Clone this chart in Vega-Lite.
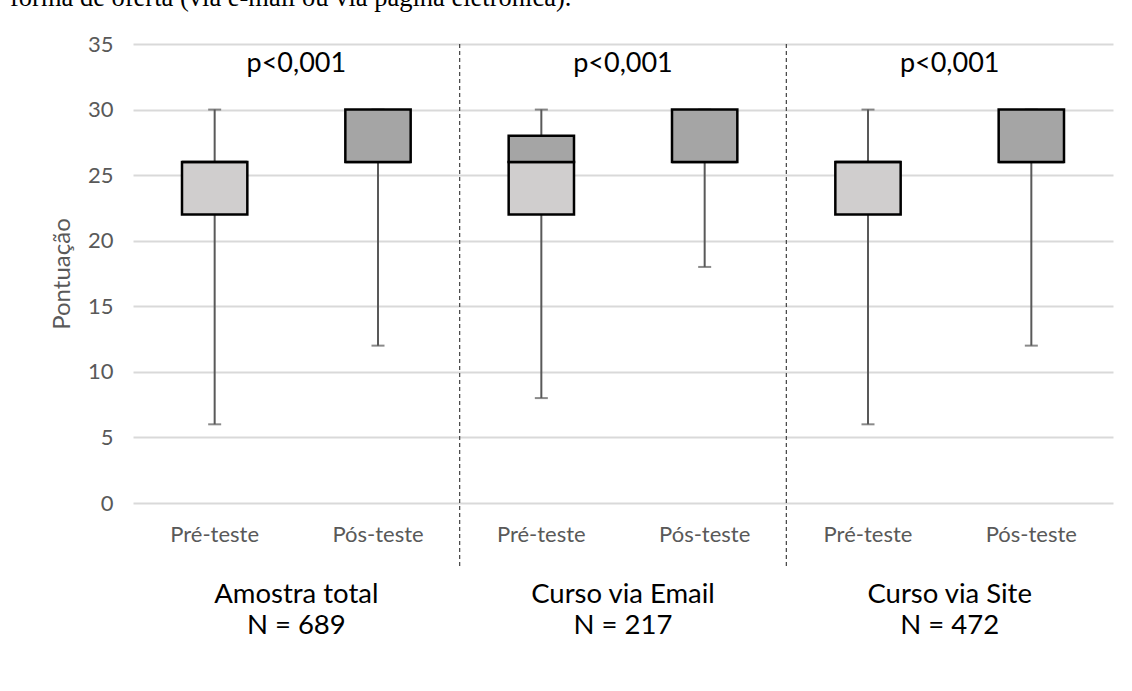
{
  "$schema": "https://vega.github.io/schema/vega-lite/v6.json",
  "width": 980,
  "height": 459,
  "autosize": {"type": "none"},
  "padding": {"left": 133, "top": 44, "right": 19, "bottom": 188},
  "background": "white",
  "config": {
    "view": {"stroke": null},
    "font": "Lato",
    "title": {"font": "Liberation Serif", "fontWeight": "normal"}
  },
  "title": {
    "text": "forma de oferta (via e-mail ou via página eletrônica).",
    "anchor": "start",
    "frame": "group",
    "dx": -123,
    "dy": 17,
    "fontSize": 26.5,
    "color": "#000000",
    "baseline": "alphabetic",
    "offset": 18
  },
  "layer": [
    {
      "data": {
        "values": [
          {"rotulo": "Amostra total|N = 689", "p": "p<0,001", "separador": true},
          {"rotulo": "Curso via Email|N = 217", "p": "p<0,001", "separador": true},
          {"rotulo": "Curso via Site|N = 472", "p": "p<0,001", "separador": false}
        ]
      },
      "encoding": {
        "x": {
          "field": "rotulo",
          "type": "nominal",
          "sort": null,
          "scale": {"paddingInner": 0, "paddingOuter": 0},
          "axis": {
            "orient": "bottom",
            "title": null,
            "domain": false,
            "ticks": false,
            "labelExpr": "split(datum.label, '|')",
            "labelFontSize": 27.5,
            "labelColor": "#000000",
            "labelPadding": 77,
            "labelLineHeight": 31,
            "labelLimit": 0,
            "labelAngle": 0
          }
        }
      },
      "layer": [
        {
          "transform": [{"filter": "datum.separador"}],
          "mark": {"type": "rule", "strokeDash": [4, 3], "strokeWidth": 1.2, "color": "#404040", "clip": false},
          "encoding": {
            "x": {"field": "rotulo", "type": "nominal", "sort": null, "bandPosition": 1},
            "y": {"datum": 35, "type": "quantitative"},
            "y2": {"datum": -4.9}
          }
        },
        {
          "mark": {"type": "text", "fontSize": 27, "color": "#000000", "baseline": "middle"},
          "encoding": {
            "y": {"datum": 33.5, "type": "quantitative"},
            "text": {"field": "p"}
          }
        }
      ]
    },
    {
      "data": {
        "values": [
          {"chave": "Amostra total|Pré-teste", "min": 6, "q1": 22, "mediana": 26, "q3": 26, "max": 30},
          {"chave": "Amostra total|Pós-teste", "min": 12, "q1": 26, "mediana": 26, "q3": 30, "max": 30},
          {"chave": "Curso via Email|Pré-teste", "min": 8, "q1": 22, "mediana": 26, "q3": 28, "max": 30},
          {"chave": "Curso via Email|Pós-teste", "min": 18, "q1": 26, "mediana": 26, "q3": 30, "max": 30},
          {"chave": "Curso via Site|Pré-teste", "min": 6, "q1": 22, "mediana": 26, "q3": 26, "max": 30},
          {"chave": "Curso via Site|Pós-teste", "min": 12, "q1": 26, "mediana": 26, "q3": 30, "max": 30}
        ]
      },
      "encoding": {
        "x": {
          "field": "chave",
          "type": "nominal",
          "sort": null,
          "scale": {"paddingInner": 0, "paddingOuter": 0},
          "axis": {
            "orient": "bottom",
            "title": null,
            "domain": false,
            "ticks": false,
            "labelExpr": "split(datum.label, '|')[1]",
            "labelFontSize": 22,
            "labelColor": "#595959",
            "labelPadding": 21,
            "labelLimit": 0,
            "labelAngle": 0
          }
        }
      },
      "layer": [
        {
          "mark": {"type": "rule", "color": "#595959", "strokeWidth": 2},
          "encoding": {
            "y": {
              "field": "min",
              "type": "quantitative",
              "scale": {"domain": [0, 35], "nice": false},
              "axis": {
                "title": "Pontuação",
                "values": [0, 5, 10, 15, 20, 25, 30, 35],
                "domain": false,
                "ticks": false,
                "grid": true,
                "gridColor": "#d9d9d9",
                "gridWidth": 2,
                "labelFontSize": 22,
                "labelColor": "#595959",
                "labelPadding": 20,
                "titleFontSize": 24,
                "titleColor": "#595959",
                "titleFontWeight": "normal",
                "titlePadding": 13
              }
            },
            "y2": {"field": "max"}
          }
        },
        {
          "mark": {"type": "tick", "color": "#595959", "thickness": 2, "size": 13},
          "encoding": {"y": {"field": "min", "type": "quantitative"}}
        },
        {
          "mark": {"type": "tick", "color": "#595959", "thickness": 2, "size": 13},
          "encoding": {"y": {"field": "max", "type": "quantitative"}}
        },
        {
          "mark": {"type": "bar", "width": {"band": 0.4}, "fill": "#d0cece", "stroke": "#000000", "strokeWidth": 2.5},
          "encoding": {
            "y": {"field": "q1", "type": "quantitative"},
            "y2": {"field": "mediana"}
          }
        },
        {
          "mark": {"type": "bar", "width": {"band": 0.4}, "fill": "#a5a5a5", "stroke": "#000000", "strokeWidth": 2.5},
          "encoding": {
            "y": {"field": "mediana", "type": "quantitative"},
            "y2": {"field": "q3"}
          }
        }
      ]
    }
  ],
  "resolve": {"scale": {"x": "independent"}, "axis": {"x": "independent"}}
}
